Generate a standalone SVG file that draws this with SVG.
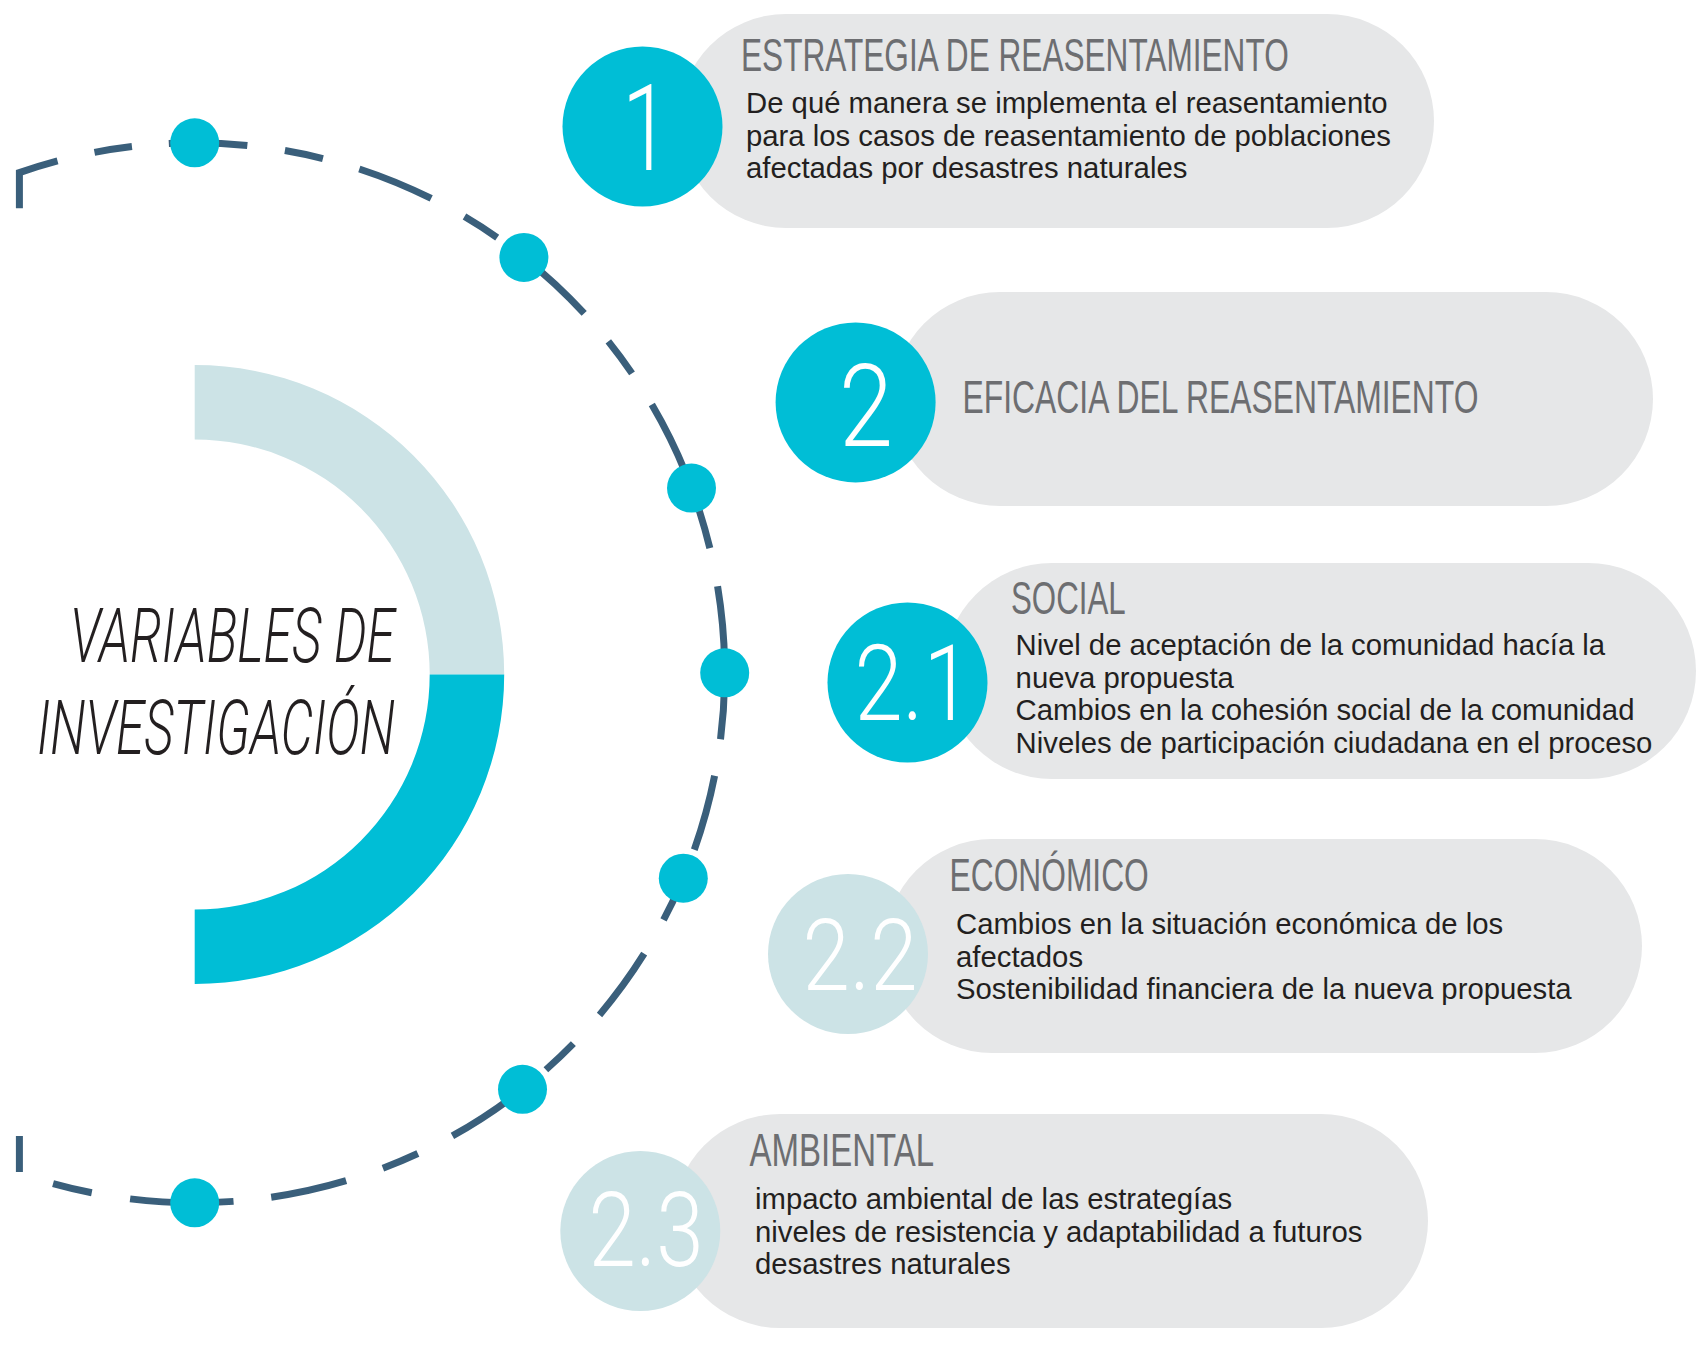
<svg xmlns="http://www.w3.org/2000/svg" width="1696" height="1365" viewBox="0 0 1696 1365">
<style>
.pill{fill:#e6e7e8}
.cc{fill:#00bed6}
.cl{fill:#cce3e6}
.title{font-family:"Liberation Sans",Arial,sans-serif;font-size:46px;fill:#6d6e71}
.body{font-family:"Liberation Sans",Arial,sans-serif;font-size:29.3px;fill:#231f20}
.num{font-family:Roboto,"Liberation Sans",sans-serif;font-weight:300;fill:#ffffff;text-anchor:middle}
.dash{fill:none;stroke:#3a5f7b;stroke-width:7;stroke-linejoin:miter}
.dot{fill:#00bed6}
.main{font-family:Roboto,"Liberation Sans",sans-serif;font-weight:300;font-style:italic;font-size:76px;fill:#231f20;text-anchor:end}
</style>
<rect width="1696" height="1365" fill="#ffffff"/>
<g id="center">
  <path fill="#cce3e6" d="M194.7,365 A309.5,309.5 0 0 1 504.2,674.5 H429.7 A235,235 0 0 0 194.7,439.5 Z"/>
  <path fill="#00bed6" d="M504.2,674.5 A309.5,309.5 0 0 1 194.7,984 V909.5 A235,235 0 0 0 429.7,674.5 Z"/>
  <text class="main" x="395" y="662" textLength="325" lengthAdjust="spacingAndGlyphs">VARIABLES DE</text>
  <text class="main" x="395" y="753.5" textLength="358" lengthAdjust="spacingAndGlyphs">INVESTIGACIÓN</text>
</g>
<g id="connectors">
  <path class="dash" d="M19.4,208.3 V172.6 A530,530 0 0 1 57.53,160.86 M94.48,152.36 A530,530 0 0 1 131.94,146.53 M168.81,143.43 A530,530 0 0 1 247.34,145.42 M284.91,150.53 A530,530 0 0 1 322.92,158.54 M359.33,169.01 A530,530 0 0 1 431.19,198.49 M464.49,216.61 A530,530 0 0 1 497.18,237.59 M523.91,257.44 A530,530 0 0 1 584.2,313.38 M608.33,341.42 A530,530 0 0 1 632.01,373.37 M651.83,404.6 A530,530 0 0 1 685.76,473.4 M699.33,510.78 A530,530 0 0 1 709.84,548.18 M717.58,586.24 A530,530 0 0 1 724.62,663.55 M724.62,682.05 A530,530 0 0 1 720.52,739.23 M714.61,775.74 A530,530 0 0 1 694.3,849.72 M680.74,884.14 A530,530 0 0 1 663.53,919.99 M644.17,953.66 A530,530 0 0 1 599.51,1014.89 M573.37,1043.62 A530,530 0 0 1 545.89,1069.75 M517.34,1093.28 A530,530 0 0 1 452.43,1135.91 M417.85,1153.53 A530,530 0 0 1 382.91,1168.26 M346.12,1180.71 A530,530 0 0 1 271.21,1197.25 M233.52,1201.38 A530,530 0 0 1 130.11,1198.85 M91.76,1192.71 A530,530 0 0 1 53.06,1183.52 M19.4,1172 V1136"/>
  <circle class="dot" cx="194.7" cy="142.8" r="24.5"/>
  <circle class="dot" cx="523.9" cy="257.4" r="24.5"/>
  <circle class="dot" cx="691.5" cy="488.1" r="24.5"/>
  <circle class="dot" cx="724.7" cy="672.8" r="24.5"/>
  <circle class="dot" cx="683.3" cy="878.2" r="24.5"/>
  <circle class="dot" cx="522.5" cy="1089.3" r="24.5"/>
  <circle class="dot" cx="194.7" cy="1202.8" r="24.5"/>
</g>
<g id="node-1">
  <rect class="pill" x="679" y="14" width="755" height="214" rx="107"/>
  <circle class="cc" cx="642.5" cy="126.5" r="80"/>
  <text class="num" x="646" y="169.8" font-size="120" textLength="48" lengthAdjust="spacingAndGlyphs">1</text>
  <text class="title" transform="translate(741,71.4) scale(0.687,1)">ESTRATEGIA DE REASENTAMIENTO</text>
  <text class="body" x="746" y="113.4">De qué manera se implementa el reasentamiento</text>
  <text class="body" x="746" y="145.9">para los casos de reasentamiento de poblaciones</text>
  <text class="body" x="746" y="178.3">afectadas por desastres naturales</text>
</g>
<g id="node-2">
  <rect class="pill" x="893" y="292" width="760" height="214" rx="107"/>
  <circle class="cc" cx="855.6" cy="402.4" r="80"/>
  <text class="num" x="866" y="445.6" font-size="115" textLength="54" lengthAdjust="spacingAndGlyphs">2</text>
  <text class="title" transform="translate(962.6,413) scale(0.692,1)">EFICACIA DEL REASENTAMIENTO</text>
</g>
<g id="node-2-1">
  <rect class="pill" x="944" y="563" width="752" height="216" rx="108"/>
  <circle class="cc" cx="907.5" cy="682.5" r="80"/>
  <text class="num" x="913" y="720.4" font-size="105" textLength="117" lengthAdjust="spacingAndGlyphs">2.1</text>
  <text class="title" transform="translate(1011,614) scale(0.68,1)">SOCIAL</text>
  <text class="body" x="1015.6" y="655">Nivel de aceptación de la comunidad hacía la</text>
  <text class="body" x="1015.6" y="687.5">nueva propuesta</text>
  <text class="body" x="1015.6" y="720">Cambios en la cohesión social de la comunidad</text>
  <text class="body" x="1015.6" y="752.5">Niveles de participación ciudadana en el proceso</text>
</g>
<g id="node-2-2">
  <rect class="pill" x="885" y="839" width="757" height="214" rx="107"/>
  <circle class="cl" cx="848" cy="954" r="80"/>
  <text class="num" x="860" y="990" font-size="100" textLength="115" lengthAdjust="spacingAndGlyphs">2.2</text>
  <text class="title" transform="translate(949.6,891) scale(0.69,1)">ECONÓMICO</text>
  <text class="body" x="956" y="934.3">Cambios en la situación económica de los</text>
  <text class="body" x="956" y="966.8">afectados</text>
  <text class="body" x="956" y="999.3">Sostenibilidad financiera de la nueva propuesta</text>
</g>
<g id="node-2-3">
  <rect class="pill" x="673" y="1114" width="755" height="214" rx="107"/>
  <circle class="cl" cx="640.3" cy="1231" r="80"/>
  <text class="num" x="646" y="1265.5" font-size="103" textLength="115" lengthAdjust="spacingAndGlyphs">2.3</text>
  <text class="title" transform="translate(749.6,1166) scale(0.717,1)">AMBIENTAL</text>
  <text class="body" x="755" y="1209">impacto ambiental de las estrategías</text>
  <text class="body" x="755" y="1241.5">niveles de resistencia y adaptabilidad a futuros</text>
  <text class="body" x="755" y="1274">desastres naturales</text>
</g>
</svg>
